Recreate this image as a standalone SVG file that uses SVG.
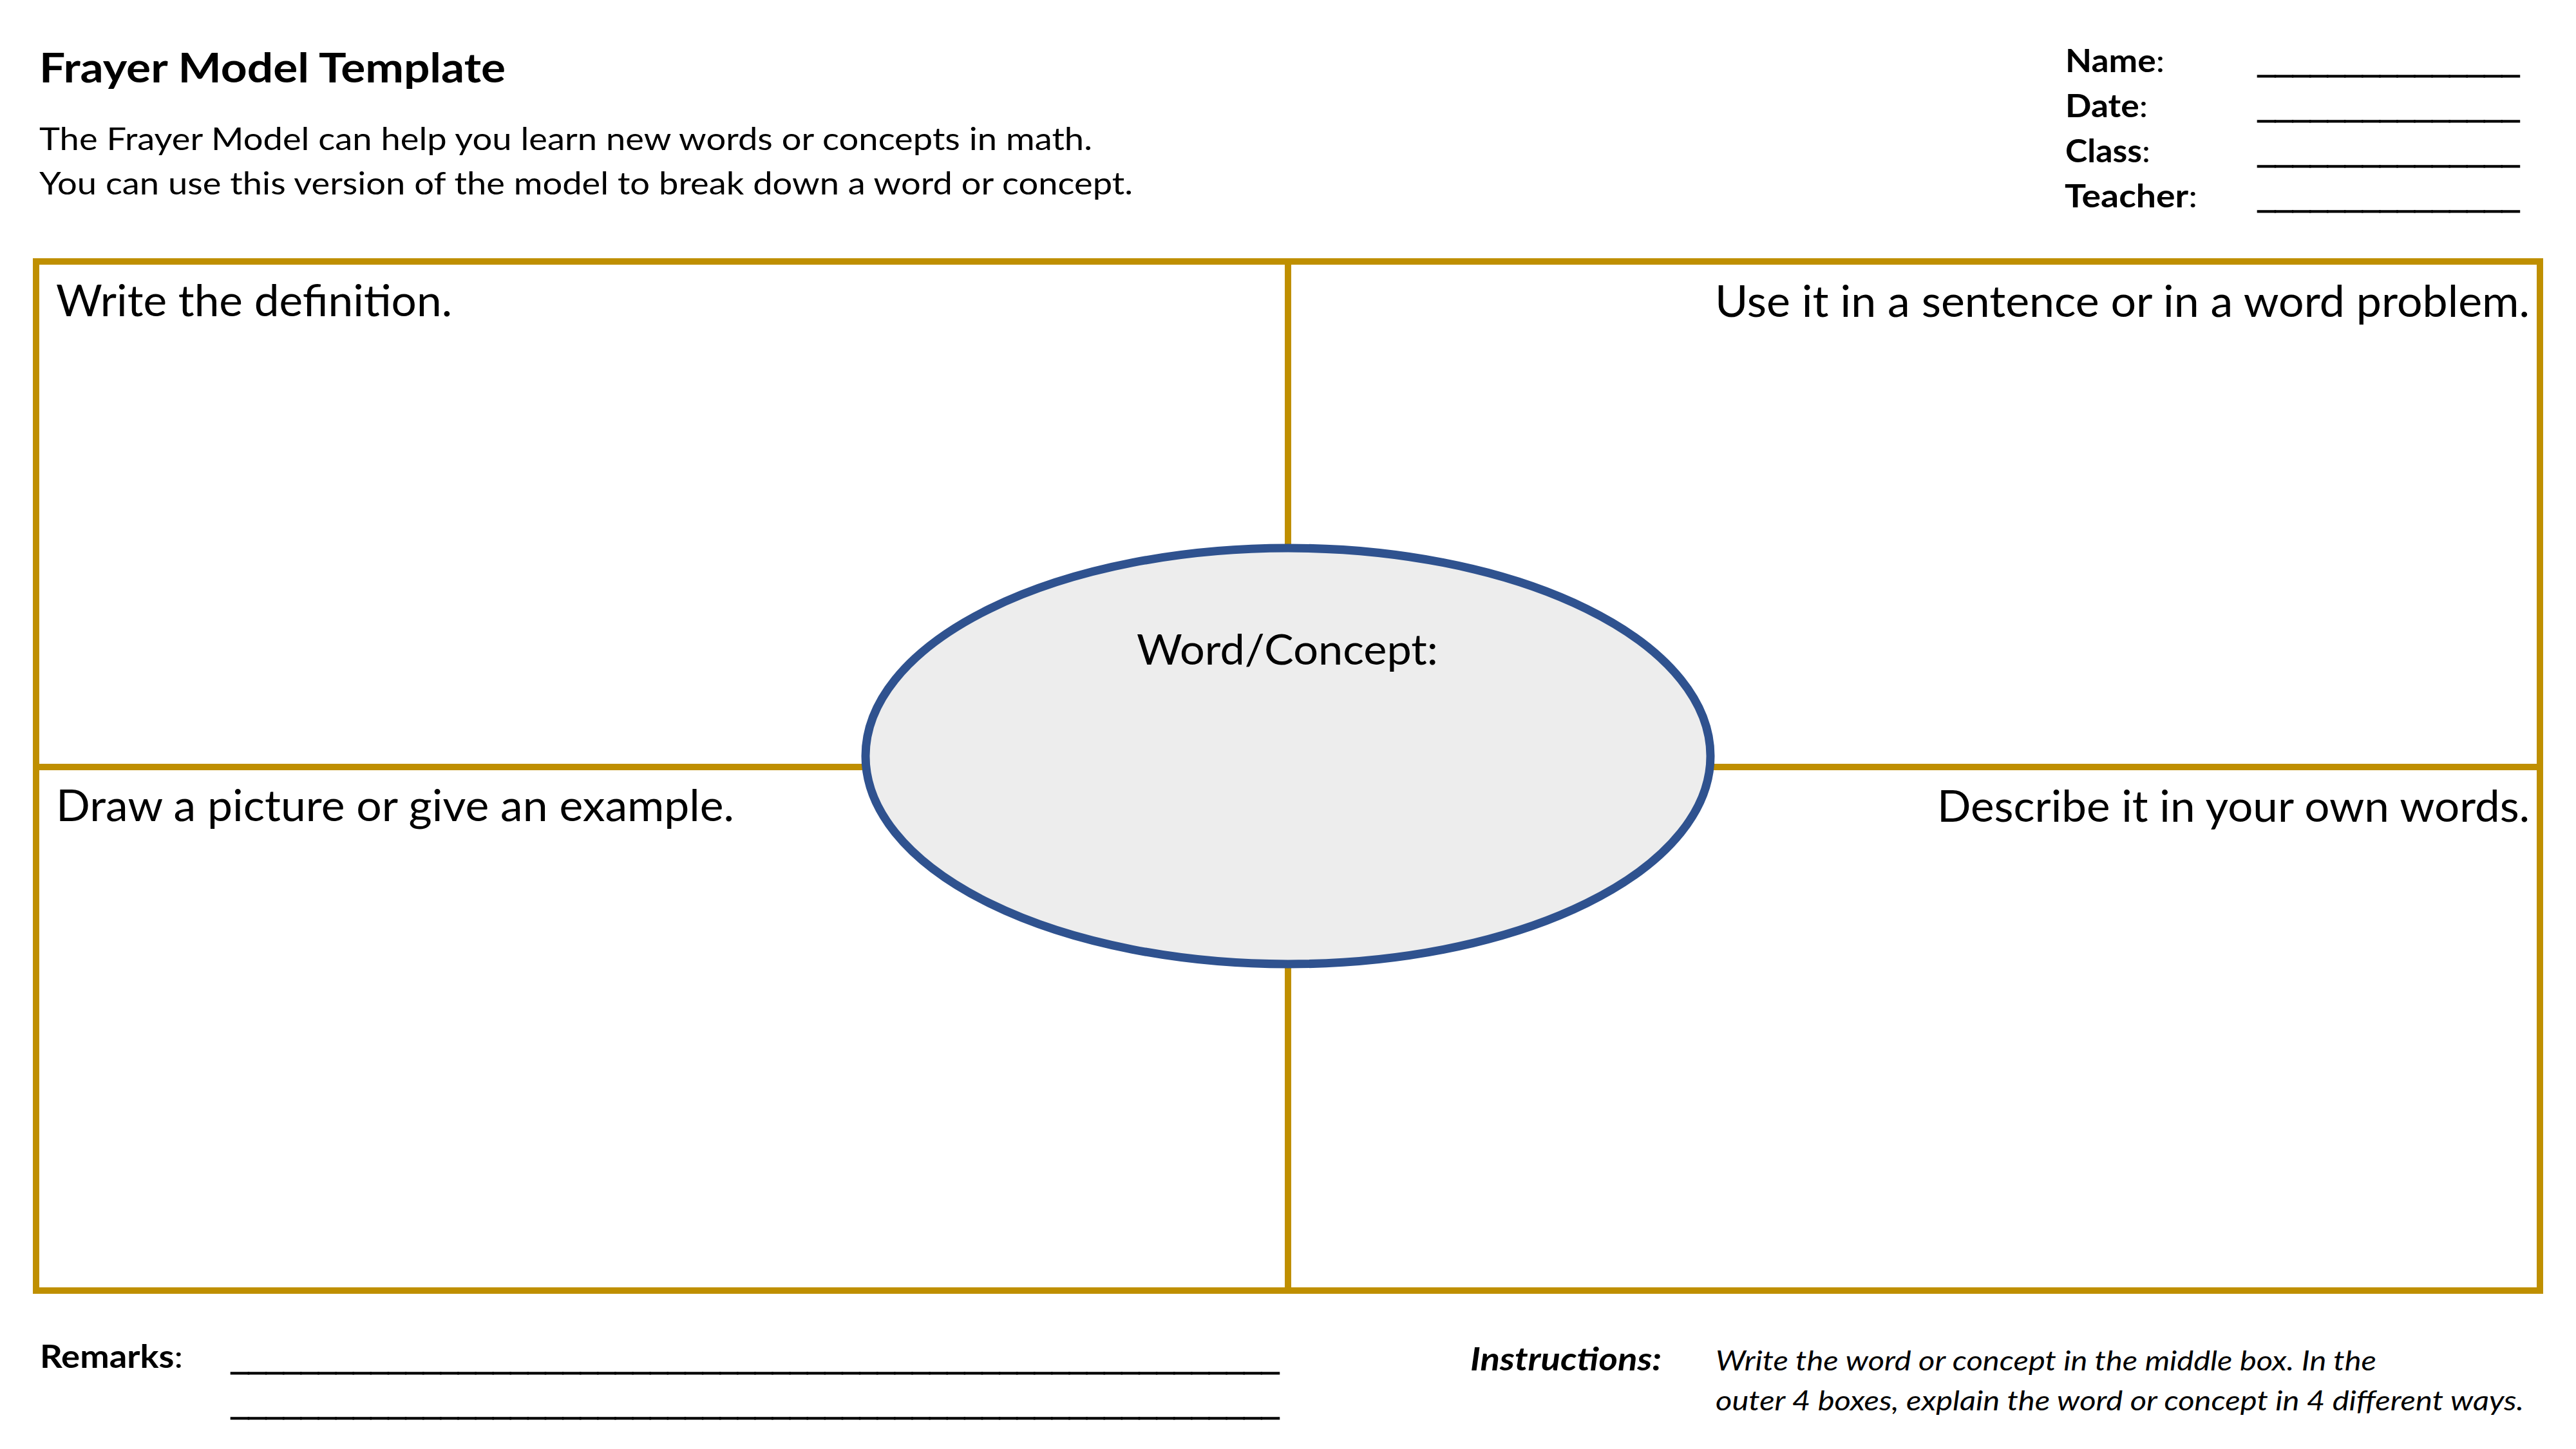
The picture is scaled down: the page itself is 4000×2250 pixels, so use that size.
<svg xmlns="http://www.w3.org/2000/svg" width="4000" height="2250" viewBox="0 0 4000 2250">
<style>
text{font-family:Lato,"Open Sans","Liberation Sans",sans-serif;fill:#000}
.b{font-weight:bold}
.n{font-weight:normal}
.it{font-style:italic}
.title{font-size:64px;font-weight:bold}
.sub{font-size:49px}
.hdr{font-size:49px;font-weight:bold}
.q{font-size:67px}
.us{font-family:"Liberation Sans",Arial,sans-serif;font-size:49px;stroke:#000;stroke-width:1.2}
.grid{stroke:#BF8F00;stroke-width:10;fill:none}
</style>
<rect width="4000" height="2250" fill="#FFFFFF"/>
<g id="header">
<text class="title" x="61" y="128" textLength="724" lengthAdjust="spacingAndGlyphs">Frayer Model Template</text>
<text class="sub" x="61" y="233" textLength="1635" lengthAdjust="spacingAndGlyphs">The Frayer Model can help you learn new words or concepts in math.</text>
<text class="sub" x="61" y="302" textLength="1698" lengthAdjust="spacingAndGlyphs">You can use this version of the model to break down a word or concept.</text>
</g>
<g id="fields">
<text class="hdr" x="3207" y="112" textLength="154" lengthAdjust="spacingAndGlyphs">Name<tspan class="n">:</tspan></text>
<text class="hdr" x="3207" y="182" textLength="128" lengthAdjust="spacingAndGlyphs">Date<tspan class="n">:</tspan></text>
<text class="hdr" x="3207" y="252" textLength="132" lengthAdjust="spacingAndGlyphs">Class<tspan class="n">:</tspan></text>
<text class="hdr" x="3206" y="322" textLength="206" lengthAdjust="spacingAndGlyphs">Teacher<tspan class="n">:</tspan></text>
<text class="us" x="3506" y="110" textLength="406" lengthAdjust="spacingAndGlyphs">_______________</text>
<text class="us" x="3506" y="180" textLength="406" lengthAdjust="spacingAndGlyphs">_______________</text>
<text class="us" x="3506" y="250" textLength="406" lengthAdjust="spacingAndGlyphs">_______________</text>
<text class="us" x="3506" y="320" textLength="406" lengthAdjust="spacingAndGlyphs">_______________</text>
</g>
<g id="connectors">
<line class="grid" x1="2000" y1="406" x2="2000" y2="2004"/>
<line class="grid" x1="56" y1="1191" x2="3944" y2="1191"/>
<rect class="grid" x="56" y="406" width="3888" height="1598"/>
</g>
<g id="q-definition">
<text class="q" x="87" y="491" textLength="615" lengthAdjust="spacingAndGlyphs">Write the definition.</text>
</g>
<g id="q-sentence">
<text class="q" x="2663" y="492" textLength="1265" lengthAdjust="spacingAndGlyphs">Use it in a sentence or in a word problem.</text>
</g>
<g id="q-picture">
<text class="q" x="87" y="1275" textLength="1053" lengthAdjust="spacingAndGlyphs">Draw a picture or give an example.</text>
</g>
<g id="q-describe">
<text class="q" x="3008" y="1276" textLength="920" lengthAdjust="spacingAndGlyphs">Describe it in your own words.</text>
</g>
<g id="word-concept">
<ellipse cx="2000" cy="1174" rx="656" ry="323" fill="#EDEDED" stroke="#2F528F" stroke-width="13"/>
<text x="1765" y="1032" font-size="66" textLength="468" lengthAdjust="spacingAndGlyphs">Word/Concept:</text>
</g>
<g id="remarks">
<text class="hdr" x="62" y="2124" font-size="51" textLength="222" lengthAdjust="spacingAndGlyphs">Remarks<tspan class="n">:</tspan></text>
<text class="us" x="359" y="2124" textLength="1627" lengthAdjust="spacingAndGlyphs">____________________________________________________________</text>
<text class="us" x="359" y="2194" textLength="1627" lengthAdjust="spacingAndGlyphs">____________________________________________________________</text>
</g>
<g id="instructions">
<text class="b it" x="2283" y="2128" font-size="50" textLength="297" lengthAdjust="spacingAndGlyphs">Instructions:</text>
<text class="it" x="2664" y="2128" font-size="43" textLength="1026" lengthAdjust="spacingAndGlyphs">Write the word or concept in the middle box. In the</text>
<text class="it" x="2664" y="2190" font-size="43" textLength="1255" lengthAdjust="spacingAndGlyphs">outer 4 boxes, explain the word or concept in 4 different ways.</text>
</g>
</svg>
